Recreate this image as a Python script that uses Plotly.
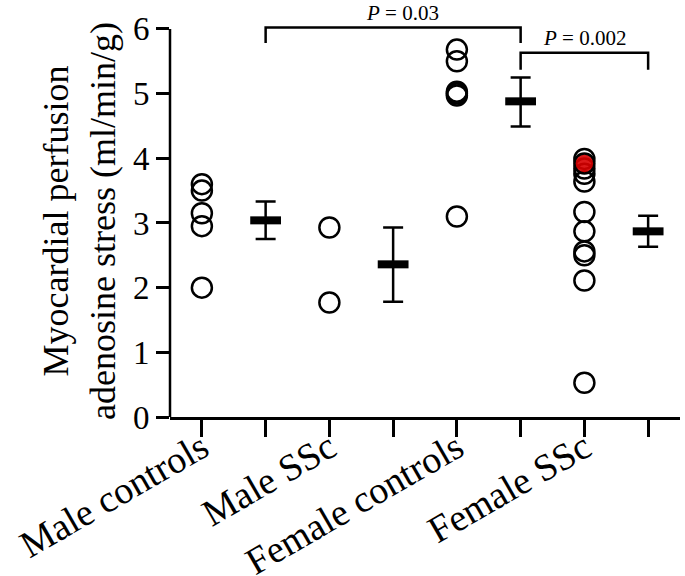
import plotly.graph_objects as go

# ---- data ----
group_labels = ["Male controls", "", "Male SSc", "", "Female controls", "", "Female SSc", ""]
male_controls = [3.6, 3.5, 3.15, 2.95, 2.0]
male_ssc = [2.93, 1.77]
female_controls = [5.68, 5.5, 5.03, 5.0, 4.97, 3.1]
female_ssc = [3.99, 3.84, 3.76, 3.64, 3.17, 2.87, 2.56, 2.50, 2.11, 0.53]
female_ssc_highlight = [3.92]
mean_values = [3.04, 2.36, 4.88, 2.87]
err_upper = [3.33, 2.93, 5.25, 3.11]
err_lower = [2.75, 1.78, 4.49, 2.63]
pvals = ["<i>P</i> = 0.03", "<i>P</i> = 0.002"]
brackets = [(1, 5, 6.02, 5.78), (5, 7, 5.63, 5.37)]

FONT = "Liberation Serif"
fig = go.Figure()

ring = dict(symbol="circle", size=20, color="rgba(0,0,0,0)", line=dict(color="black", width=2.5))
for pos, vals in zip([0, 2, 4, 6], [male_controls, male_ssc, female_controls, female_ssc]):
    fig.add_trace(go.Scatter(x=[pos] * len(vals), y=vals, mode="markers", marker=ring,
                             showlegend=False, cliponaxis=False, hoverinfo="skip"))
fig.add_trace(go.Scatter(x=[6] * len(female_ssc_highlight), y=female_ssc_highlight, mode="markers",
                         marker=dict(symbol="circle", size=20, color="rgba(215,0,0,0.9)",
                                     line=dict(color="black", width=2.5)),
                         showlegend=False, cliponaxis=False, hoverinfo="skip"))

mx = [1, 3, 5, 7]
fig.add_trace(go.Scatter(
    x=mx, y=mean_values, mode="markers",
    marker=dict(symbol="line-ew", size=22, line=dict(color="black", width=8)),
    error_y=dict(type="data", symmetric=False,
                 array=[u - m for u, m in zip(err_upper, mean_values)],
                 arrayminus=[m - l for m, l in zip(mean_values, err_lower)],
                 color="black", thickness=2.5, width=10),
    showlegend=False, cliponaxis=False, hoverinfo="skip"))

shapes = [dict(type="line", xref="paper", yref="y", x0=0, x1=0, y0=0, y1=6,
               line=dict(color="black", width=2.5))]
annotations = []
for (a, b, top, leg), txt, xs in zip(brackets, pvals, [9, 0]):
    shapes.append(dict(type="path", xref="x", yref="y",
                       path=f"M {a},{leg} L {a},{top} L {b},{top} L {b},{leg}",
                       line=dict(color="black", width=2.5)))
    annotations.append(dict(x=(a + b) / 2, y=top, xref="x", yref="y", text=txt,
                            showarrow=False, yanchor="bottom", yshift=1, xshift=xs,
                            font=dict(family=FONT, size=21, color="black")))

fig.update_layout(
    width=685, height=576,
    margin=dict(l=170, r=5, t=25, b=159),
    plot_bgcolor="white", paper_bgcolor="white",
    shapes=shapes, annotations=annotations,
    font=dict(family=FONT, color="black"),
    xaxis=dict(range=[-0.5, 7.5], tickmode="array", tickvals=list(range(8)),
               ticktext=group_labels, tickangle=-30, ticks="outside", ticklen=17,
               tickwidth=2.5, tickcolor="black", showline=True, linewidth=2.5,
               linecolor="black", showgrid=False, zeroline=False, automargin=False,
               ticklabelstandoff=-26, ticklabeloverflow="allow",
               tickfont=dict(family=FONT, size=38, color="black")),
    yaxis=dict(range=[0, 6.06], tickmode="array", tickvals=[0, 1, 2, 3, 4, 5, 6],
               ticks="outside", ticklen=13, tickwidth=2.5, tickcolor="black",
               showline=False, showgrid=False, zeroline=False, automargin=False,
               ticklabeloverflow="allow",
               tickfont=dict(family=FONT, size=33, color="black"),
               title=dict(text="Myocardial perfusion<br>adenosine stress (ml/min/g)",
                          font=dict(family=FONT, size=36, color="black"), standoff=6)),
)

fig.write_html("out.html", config={"displayModeBar": False},
               post_script="document.body.style.margin='0';")
